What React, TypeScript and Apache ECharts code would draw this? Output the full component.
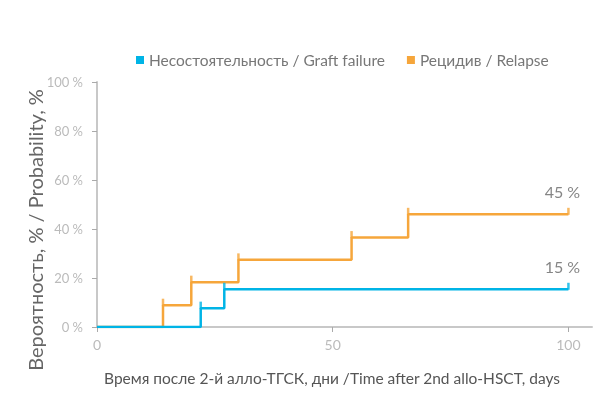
import React, { useEffect, useRef } from "react";
import * as echarts from "echarts";

const seriesNames = ["Несостоятельность / Graft failure", "Рецидив / Relapse"];
const graftFailure: [number, number][] = [[0, 0], [22, 7.7], [27, 15.4], [100, 15.4]];
const relapse: [number, number][] = [[0, 0], [14, 8.9], [20, 18.3], [30, 27.4], [54, 36.5], [66, 46], [100, 46]];
const graftCensor: [number, number][] = [[22, 7.7], [27, 15.4], [100, 15.4]];
const relapseCensor: [number, number][] = [[14, 8.9], [20, 18.3], [30, 27.4], [54, 36.5], [66, 46], [100, 46]];
const endLabels = ["15 %", "45 %"];
const xTicks = [0, 50, 100];
const yAxisTitle = "Вероятность, % / Probability, %";
const xAxisTitle = "Время после 2-й алло-ТГСК, дни /Time after 2nd allo-HSCT, days";

const BLUE = "#00b4e6";
const ORANGE = "#f6a63b";
const FONT = "Lato, 'Noto Sans', sans-serif";

export default function App() {
  const ref = useRef<HTMLDivElement>(null);
  useEffect(() => {
    if (!ref.current) return;
    const chart = echarts.init(ref.current, null, { renderer: "svg" });
    const censorSeries = (name: string, data: [number, number][], color: string) => ({
      name,
      type: "scatter",
      data,
      symbol: "rect",
      symbolSize: [2.5, 7],
      symbolOffset: [0, -3],
      itemStyle: { color },
      z: 3,
      silent: true,
    });
    const endLabelSeries = (data: [number, number], text: string) => ({
      type: "scatter",
      data: [data],
      symbolSize: 0,
      silent: true,
      label: {
        show: true,
        position: "inside",
        offset: [-6, -23],
        formatter: text,
        color: "#666",
        fontSize: 16,
        fontFamily: FONT,
      },
    });
    chart.setOption({
      animation: false,
      color: [BLUE, ORANGE],
      legend: {
        data: seriesNames.map((n) => ({ name: n, icon: "rect" })),
        left: 131,
        top: 47,
        itemWidth: 8,
        itemHeight: 8,
        itemGap: 22,
        textStyle: { color: "#777", fontSize: 15.5, fontFamily: FONT },
      },
      grid: { left: 97, right: 17, top: 82, bottom: 85, containLabel: false },
      xAxis: {
        type: "value",
        min: 0,
        max: 105,
        interval: 50,
        axisLine: { show: true, lineStyle: { color: "#c8c8c8", width: 2 } },
        axisTick: { show: true, customValues: xTicks, length: 5, lineStyle: { color: "#aaa", width: 1 } },
        axisLabel: { customValues: xTicks, color: "#bbb", fontSize: 14, fontFamily: FONT, margin: 10 },
        splitLine: { show: false },
      },
      yAxis: {
        type: "value",
        min: 0,
        max: 100,
        interval: 20,
        axisLine: { show: true, lineStyle: { color: "#c8c8c8", width: 2 } },
        axisTick: { show: true, length: 5, lineStyle: { color: "#aaa", width: 1 } },
        axisLabel: { formatter: "{value} %", color: "#bbb", fontSize: 13, fontFamily: FONT, margin: 14 },
        splitLine: { show: false },
      },
      graphic: [
        {
          type: "text",
          x: 35,
          y: 230,
          rotation: Math.PI / 2,
          style: {
            text: yAxisTitle,
            fill: "#666",
            fontSize: 20,
            fontFamily: FONT,
            align: "center",
            verticalAlign: "middle",
          },
        },
        {
          type: "text",
          x: 332,
          y: 378,
          style: {
            text: xAxisTitle,
            fill: "#555",
            fontSize: 15.5,
            fontFamily: FONT,
            align: "center",
            verticalAlign: "middle",
          },
        },
      ],
      series: [
        {
          name: seriesNames[1],
          type: "line",
          step: "end",
          data: relapse,
          showSymbol: false,
          symbol: "none",
          lineStyle: { color: ORANGE, width: 2.5 },
          itemStyle: { color: ORANGE },
          z: 2,
        },
        {
          name: seriesNames[0],
          type: "line",
          step: "end",
          data: graftFailure,
          showSymbol: false,
          symbol: "none",
          lineStyle: { color: BLUE, width: 2.5 },
          itemStyle: { color: BLUE },
          z: 2,
        },
        censorSeries(seriesNames[0], graftCensor, BLUE),
        censorSeries(seriesNames[1], relapseCensor, ORANGE),
        endLabelSeries(graftFailure[graftFailure.length - 1], endLabels[0]),
        endLabelSeries(relapse[relapse.length - 1], endLabels[1]),
      ],
    });
    return () => chart.dispose();
  }, []);
  return (
    <div
      ref={ref}
      style={{ position: "fixed", left: 0, top: 0, width: 609, height: 412 }}
    />
  );
}
